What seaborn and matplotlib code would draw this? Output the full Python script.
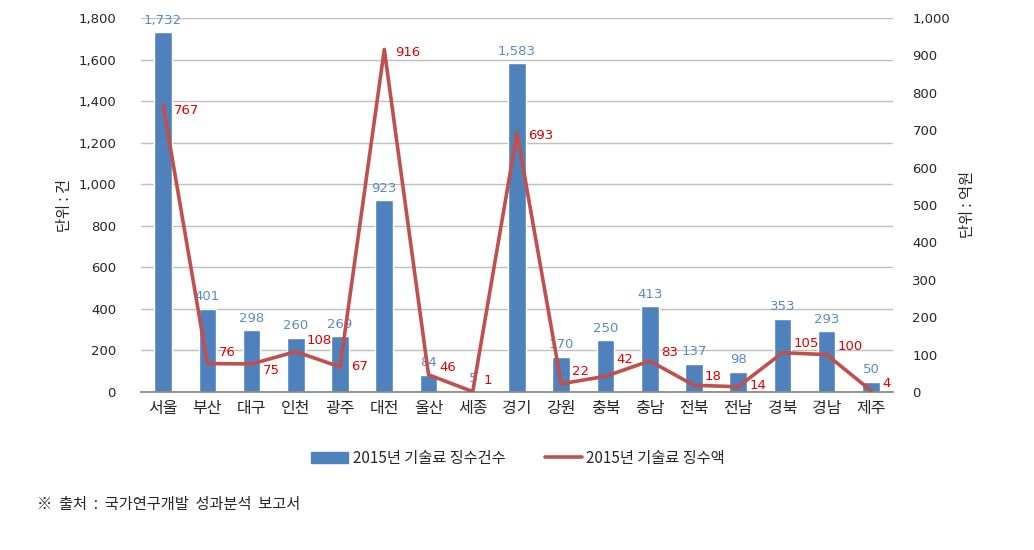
import numpy as np
import pandas as pd
import matplotlib
matplotlib.use("Agg")
import matplotlib.pyplot as plt
import seaborn as sns
from matplotlib.lines import Line2D
from matplotlib.patches import Patch

regions = ["서울", "부산", "대구", "인천", "광주", "대전", "울산", "세종", "경기",
           "강원", "충북", "충남", "전북", "전남", "경북", "경남", "제주"]
counts = [1732, 401, 298, 260, 269, 923, 84, 5, 1583, 170, 250, 413, 137, 98, 353, 293, 50]
amounts = [767, 76, 75, 108, 67, 916, 46, 1, 693, 22, 42, 83, 18, 14, 105, 100, 4]
count_label = "2015년 기술료 징수건수"
amount_label = "2015년 기술료 징수액"
left_ticks = list(range(0, 1801, 200))
right_ticks = list(range(0, 1001, 100))

# label vertical nudges (points), styling only
amount_dy = [-4, 8, -5, 8, 0, -2, 5, 8, -2, 9, 12, 6, 6, 1, 7, 6, 5]

sns.set_theme(style="white")
plt.rcParams['font.family'] = ['Noto Sans CJK KR', 'DejaVu Sans']

BAR = "#4F81BD"
LINE = "#C0504D"
GRID = "#BFBFBF"
TXT = "#262626"

fig = plt.figure(figsize=(10.34, 5.5), dpi=100)
ax = fig.add_axes([141/1034, 1 - 392/550, (893-141)/1034, (392-18)/550])

df = pd.DataFrame({"region": regions, "count": counts, "amount": amounts,
                   "pos": np.arange(len(regions))})

sns.barplot(data=df, x="region", y="count", color=BAR, width=0.4,
            saturation=1, ax=ax, zorder=2)
ax.set_xlim(-0.5, len(regions) - 0.5)
ax.set_ylim(0, 1800)
ax.set_yticks(left_ticks)
ax.set_yticklabels([f"{v:,}" for v in left_ticks], fontsize=9.5, color=TXT,
                   family=['DejaVu Sans'])
ax.yaxis.grid(True, color=GRID, linewidth=1, zorder=0)
ax.set_axisbelow(True)
ax.set_xlabel("")
ax.set_ylabel("단위 : 건", fontsize=11, color=TXT, labelpad=4)
ax.tick_params(axis="x", length=0, labelsize=11.5, colors=TXT, pad=6)
ax.tick_params(axis="y", length=0, pad=18)
for s in ["top", "right", "left"]:
    ax.spines[s].set_visible(False)
ax.spines["bottom"].set_color("#868686")
ax.set_xticks(np.arange(-0.5, len(regions)), minor=True)
ax.tick_params(axis="x", which="minor", length=5, color="#868686", direction="out")

for p, v in zip(ax.patches, counts):
    ax.annotate(f"{v:,}", (p.get_x() + p.get_width() / 2, p.get_height()),
                xytext=(0, 4), textcoords="offset points", ha="center", va="bottom",
                fontsize=9.5, color="#5A8AC6", family=['DejaVu Sans'])

ax2 = ax.twinx()
sns.lineplot(data=df, x="pos", y="amount", color=LINE, linewidth=2.6, ax=ax2,
             zorder=3, legend=False)
ax2.set_ylim(0, 1000)
ax2.set_yticks(right_ticks)
ax2.set_yticklabels([f"{v:,}" for v in right_ticks], fontsize=9.5, color=TXT,
                    family=['DejaVu Sans'])
ax2.tick_params(axis="y", length=0, pad=14)
ax2.set_ylabel("단위 : 억원", fontsize=11, color=TXT, labelpad=6, rotation=90)
ax2.set_xlabel("")
for s in ["top", "right", "left", "bottom"]:
    ax2.spines[s].set_visible(False)
ax2.set_xlim(-0.5, len(regions) - 0.5)

for x, v, dy in zip(df["pos"], amounts, amount_dy):
    ax2.annotate(f"{v:,}", (x, v), xytext=(8, dy), textcoords="offset points",
                 ha="left", va="center", fontsize=9.5, color="#E00000",
                 family=['DejaVu Sans'])

handles = [Patch(facecolor=BAR, edgecolor=BAR),
           Line2D([0], [0], color=LINE, linewidth=2.6)]
fig.legend(handles, [count_label, amount_label], loc="center",
           bbox_to_anchor=(518/1034, 1 - 458/550), ncol=2, frameon=False,
           fontsize=11, handlelength=2.4, columnspacing=2.6, handletextpad=0.3,
           labelcolor=TXT)

fig.text(37/1034, 1 - 505/550, "※  출처  :  국가연구개발  성과분석  보고서", fontsize=11,
         color=TXT, va="center", ha="left")

fig.savefig("out.png", dpi=100)
